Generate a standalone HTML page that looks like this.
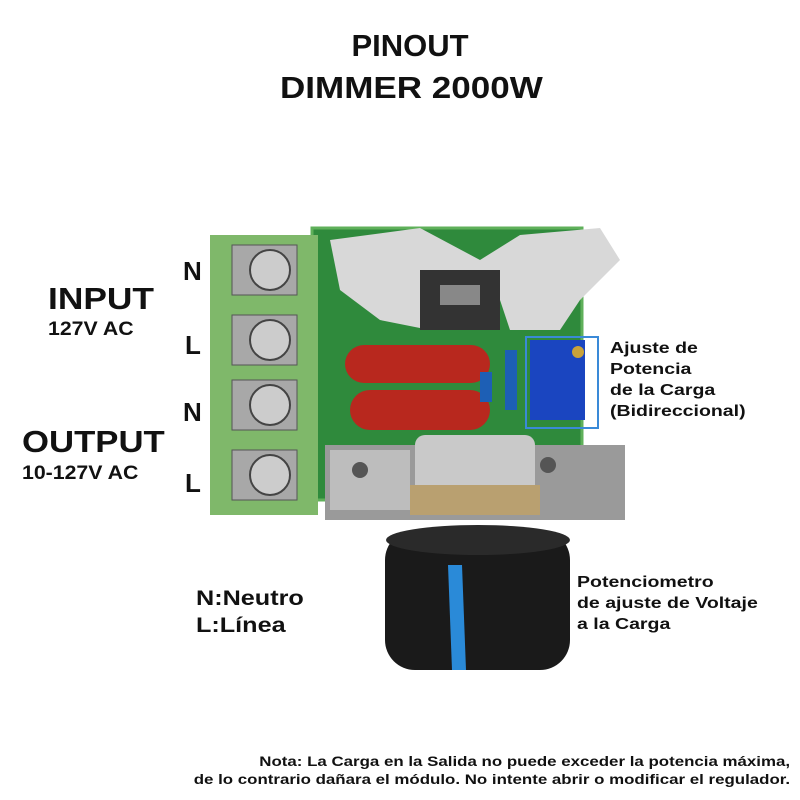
<!DOCTYPE html>
<html><head><meta charset="utf-8"><style>
body{margin:0;width:800px;height:800px;background:#fff;position:relative;overflow:hidden;font-family:"Liberation Sans",sans-serif;font-weight:bold;color:#111}
.t{position:absolute;white-space:nowrap;transform-origin:left top}
</style></head><body>
<svg width="800" height="800" style="position:absolute;left:0;top:0">
<rect x="312" y="228" width="270" height="272" fill="#2f8a3c"/>
<rect x="312" y="228" width="270" height="272" fill="none" stroke="#5fb05a" stroke-width="3"/>
<polygon points="330,240 420,228 480,260 520,235 600,228 620,260 580,300 560,330 510,330 500,300 430,330 380,320 340,290" fill="#d8d8d8"/>
<rect x="420" y="270" width="80" height="60" fill="#333"/>
<rect x="440" y="285" width="40" height="20" fill="#888"/>
<rect x="345" y="345" width="145" height="38" rx="19" fill="#b8281e"/>
<rect x="350" y="390" width="140" height="40" rx="20" fill="#b8281e"/>
<rect x="480" y="372" width="12" height="30" fill="#1d5fb5"/>
<rect x="505" y="350" width="12" height="60" fill="#1d5fb5"/>
<rect x="530" y="340" width="55" height="80" fill="#1a45c0"/>
<rect x="526" y="337" width="72" height="91" fill="none" stroke="#3a8ad8" stroke-width="2"/>
<circle cx="578" cy="352" r="6" fill="#c9a23a"/>
<rect x="210" y="235" width="108" height="280" fill="#7fb86a"/>
<g fill="#a8a8a8" stroke="#555">
<rect x="232" y="245" width="65" height="50"/>
<rect x="232" y="315" width="65" height="50"/>
<rect x="232" y="380" width="65" height="50"/>
<rect x="232" y="450" width="65" height="50"/>
</g>
<g fill="#ccc" stroke="#444" stroke-width="2">
<circle cx="270" cy="270" r="20"/><circle cx="270" cy="340" r="20"/><circle cx="270" cy="405" r="20"/><circle cx="270" cy="475" r="20"/>
</g>
<rect x="325" y="445" width="300" height="75" fill="#9a9a9a"/>
<rect x="330" y="450" width="80" height="60" fill="#bdbdbd"/>
<circle cx="360" cy="470" r="8" fill="#555"/><circle cx="548" cy="465" r="8" fill="#555"/>
<rect x="415" y="435" width="120" height="65" rx="10" fill="#c9c9c9"/>
<rect x="410" y="485" width="130" height="30" fill="#b9a070"/>
<rect x="385" y="530" width="185" height="140" rx="30" fill="#1a1a1a"/>
<ellipse cx="478" cy="540" rx="92" ry="15" fill="#2a2a2a"/>
<polygon points="448,565 462,565 466,670 452,670" fill="#2a8ad8"/>
</svg>
<div class="t" style="left:0;width:820px;text-align:center;top:28px;font-size:31px">PINOUT</div>
<div class="t" style="left:280px;top:70px;font-size:31px;transform:scaleX(1.13)">DIMMER 2000W</div>
<div class="t" style="left:183px;top:256px;font-size:26px">N</div>
<div class="t" style="left:185px;top:330px;font-size:26px">L</div>
<div class="t" style="left:183px;top:397px;font-size:26px">N</div>
<div class="t" style="left:185px;top:468px;font-size:26px">L</div>
<div class="t" style="left:48px;top:281px;font-size:31px;transform:scaleX(1.14)">INPUT</div>
<div class="t" style="left:48px;top:319px;font-size:19px;transform:scaleX(1.12)">127V AC</div>
<div class="t" style="left:22px;top:424px;font-size:31px;transform:scaleX(1.12)">OUTPUT</div>
<div class="t" style="left:22px;top:463px;font-size:19px;transform:scaleX(1.12)">10-127V AC</div>
<div class="t" style="left:610px;top:338px;font-size:16px;line-height:21px;transform:scaleX(1.22)">Ajuste de<br>Potencia<br>de la Carga<br>(Bidireccional)</div>
<div class="t" style="left:196px;top:585px;font-size:21px;line-height:27px;transform:scaleX(1.2)">N:Neutro<br>L:Línea</div>
<div class="t" style="left:577px;top:572px;font-size:16px;line-height:21px;transform:scaleX(1.22)">Potenciometro<br>de ajuste de Voltaje<br>a la Carga</div>
<div class="t" style="right:10px;top:753px;font-size:13.5px;line-height:18px;text-align:right;transform-origin:right top;transform:scaleX(1.25)">Nota: La Carga en la Salida no puede exceder la potencia máxima,<br>de lo contrario dañara el módulo. No intente abrir o modificar el regulador.</div>
</body></html>
